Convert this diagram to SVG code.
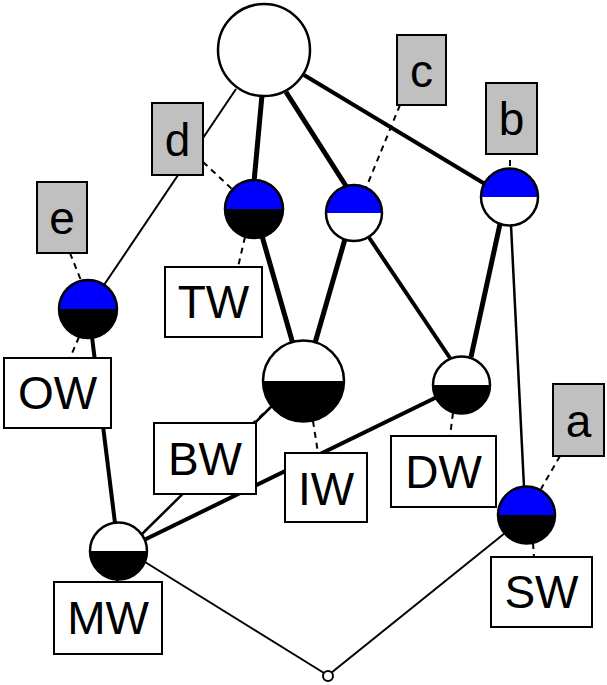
<svg xmlns="http://www.w3.org/2000/svg" width="607" height="685" viewBox="0 0 607 685">
<style>
.e{stroke:#000;fill:none;stroke-linecap:butt}
.d{stroke:#000;stroke-width:2;stroke-dasharray:6 5;fill:none}
.ring{fill:none;stroke:#000;stroke-width:2.5}
.blue{fill:#0000ff}
.blk{fill:#000}
.wht{fill:#fff}
.ob{fill:#c0c0c0;stroke:#000;stroke-width:2}
.ab{fill:#fff;stroke:#000;stroke-width:2}
text{font-family:"Liberation Sans",Arial,sans-serif;font-size:46px;fill:#000;text-anchor:middle}
</style>
<rect width="607" height="685" fill="#fff"/>
<g id="connectors">
<line class="e" stroke-width="5" x1="262" y1="95" x2="254" y2="182"/>
<line class="e" stroke-width="5" x1="286" y1="92" x2="346" y2="186"/>
<line class="e" stroke-width="4" x1="304" y1="75" x2="485" y2="184"/>
<line class="e" stroke-width="2" x1="236" y1="89" x2="104" y2="285"/>
<line class="e" stroke-width="5" x1="262" y1="236" x2="293" y2="344"/>
<line class="e" stroke-width="5" x1="345" y1="239" x2="315" y2="343"/>
<line class="e" stroke-width="4" x1="368" y1="236" x2="450" y2="358"/>
<line class="e" stroke-width="5" x1="500" y1="224" x2="471" y2="357"/>
<line class="e" stroke-width="2.5" x1="511" y1="225" x2="524" y2="487"/>
<line class="e" stroke-width="4" x1="92" y1="337" x2="115" y2="523"/>
<line class="e" stroke-width="2.5" x1="273" y1="405" x2="141" y2="535"/>
<line class="e" stroke-width="4" x1="437" y1="397" x2="144" y2="540"/>
<line class="e" stroke-width="2" x1="505" y1="533" x2="331" y2="673"/>
<line class="e" stroke-width="2" x1="145" y1="562" x2="324" y2="673"/>
</g>
<g id="label-links">
<line class="d" x1="70" y1="253" x2="82" y2="283"/>
<line class="d" x1="79" y1="337" x2="70" y2="358"/>
<line class="d" x1="203" y1="162" x2="233" y2="190"/>
<line class="d" x1="245" y1="237" x2="238" y2="267"/>
<line class="d" x1="400" y1="105" x2="366" y2="188"/>
<line class="d" x1="510" y1="160" x2="510" y2="169"/>
<line class="d" x1="560" y1="456" x2="541" y2="489"/>
<line class="d" x1="533" y1="543" x2="534" y2="557"/>
<line class="d" x1="453" y1="413" x2="450" y2="436"/>
<line class="d" x1="272" y1="406" x2="253" y2="423"/>
<line class="d" x1="313" y1="421" x2="318" y2="453"/>
<line class="d" x1="117" y1="580" x2="117" y2="582"/>
</g>
<g id="top">
<circle cx="264" cy="50" r="46" fill="#fff" stroke="#000" stroke-width="2.5"/>
</g>
<g id="n-e">
<path class="blue" d="M59,309 A29,29 0 0 1 117,309 Z"/>
<path class="blk" d="M59,309 A29,29 0 0 0 117,309 Z"/>
<circle class="ring" cx="88" cy="309" r="29"/>
</g>
<g id="n-d">
<path class="blue" d="M225,209 A29,29 0 0 1 283,209 Z"/>
<path class="blk" d="M225,209 A29,29 0 0 0 283,209 Z"/>
<circle class="ring" cx="254" cy="209" r="29"/>
</g>
<g id="n-c">
<path class="blue" d="M326,213 A28,28 0 0 1 382,213 Z"/>
<path class="wht" d="M326,213 A28,28 0 0 0 382,213 Z"/>
<circle class="ring" cx="354" cy="213" r="28"/>
</g>
<g id="n-b">
<path class="blue" d="M481,197 A28.5,28.5 0 0 1 538,197 Z"/>
<path class="wht" d="M481,197 A28.5,28.5 0 0 0 538,197 Z"/>
<circle class="ring" cx="509.5" cy="197" r="28.5"/>
</g>
<g id="n-bw">
<path class="wht" d="M263,381 A40.5,40.5 0 0 1 344,381 Z"/>
<path class="blk" d="M263,381 A40.5,40.5 0 0 0 344,381 Z"/>
<circle class="ring" cx="303.5" cy="381" r="40.5"/>
</g>
<g id="n-dw">
<path class="wht" d="M433,385 A28.5,28.5 0 0 1 490,385 Z"/>
<path class="blk" d="M433,385 A28.5,28.5 0 0 0 490,385 Z"/>
<circle class="ring" cx="461.5" cy="385" r="28.5"/>
</g>
<g id="n-sw">
<path class="blue" d="M498,515 A28.5,28.5 0 0 1 555,515 Z"/>
<path class="blk" d="M498,515 A28.5,28.5 0 0 0 555,515 Z"/>
<circle class="ring" cx="526.5" cy="515" r="28.5"/>
</g>
<g id="n-mw">
<path class="wht" d="M90,551 A28.5,28.5 0 0 1 147,551 Z"/>
<path class="blk" d="M90,551 A28.5,28.5 0 0 0 147,551 Z"/>
<circle class="ring" cx="118.5" cy="551" r="28.5"/>
</g>
<g id="bottom">
<circle cx="328" cy="676" r="5" fill="#fff" stroke="#000" stroke-width="2"/>
</g>
<g id="lab-e"><rect class="ob" x="37" y="182" width="50" height="71"/><text x="62" y="234">e</text></g>
<g id="lab-d"><rect class="ob" x="152" y="103" width="51" height="72"/><text x="177.5" y="156">d</text></g>
<g id="lab-c"><rect class="ob" x="397" y="35" width="49" height="70"/><text x="421.5" y="87">c</text></g>
<g id="lab-b"><rect class="ob" x="486" y="83" width="51" height="71"/><text x="511.5" y="135">b</text></g>
<g id="lab-a"><rect class="ob" x="553" y="384" width="51" height="72"/><text x="578.5" y="437">a</text></g>
<g id="lab-tw"><rect class="ab" x="165" y="267" width="97" height="70"/><text x="213.5" y="318">TW</text></g>
<g id="lab-ow"><rect class="ab" x="4" y="358" width="107" height="70"/><text x="57.5" y="409">OW</text></g>
<g id="lab-bw"><rect class="ab" x="154" y="423" width="102" height="71"/><text x="205" y="475">BW</text></g>
<g id="lab-iw"><rect class="ab" x="285" y="453" width="82" height="69"/><text x="326" y="505">IW</text></g>
<g id="lab-dw"><rect class="ab" x="391" y="436" width="105" height="71"/><text x="443.5" y="488">DW</text></g>
<g id="lab-sw"><rect class="ab" x="491" y="557" width="101" height="70"/><text x="541.5" y="608">SW</text></g>
<g id="lab-mw"><rect class="ab" x="54" y="582" width="108" height="72"/><text x="108" y="634">MW</text></g>
</svg>
